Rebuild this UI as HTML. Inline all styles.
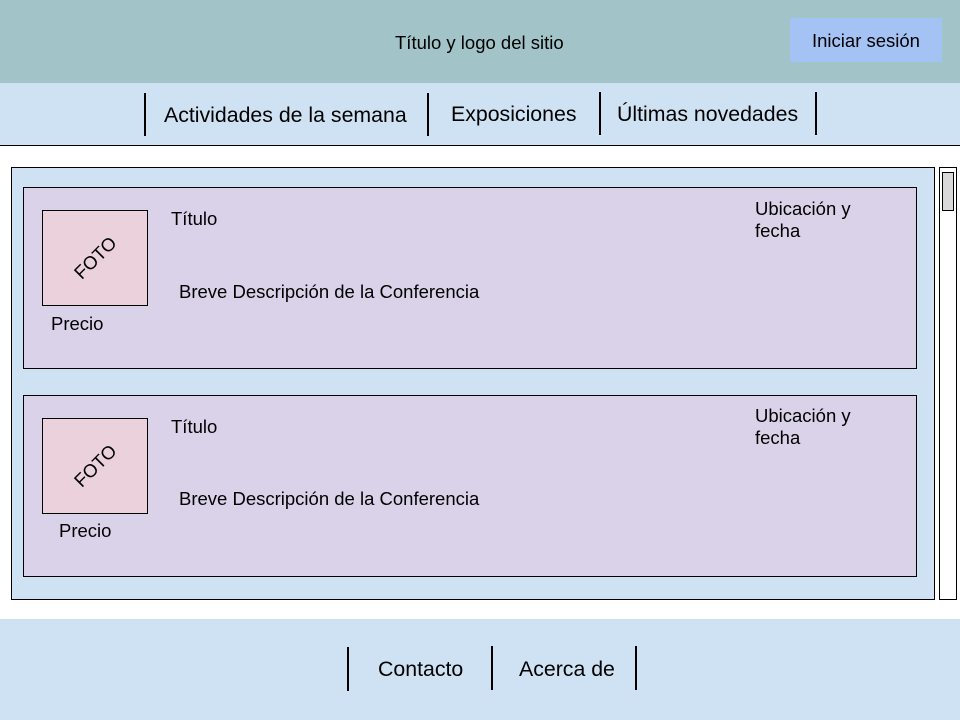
<!DOCTYPE html>
<html><head><meta charset="utf-8"><style>
body{margin:0;width:960px;height:720px;position:relative;background:#fff;font-family:"Liberation Sans",sans-serif;color:#000;overflow:hidden}
div{position:absolute;box-sizing:border-box}
.t{white-space:nowrap}
.v{width:2px;background:#000}
</style></head><body>
<div style="left:0;top:0;width:960px;height:83px;background:#a2c4c9"></div>
<div class="t" style="left:395px;top:32px;font-size:18.5px">Título y logo del sitio</div>
<div style="left:790px;top:18px;width:152px;height:44px;background:#a4c2f4"></div>
<div class="t" style="left:812px;top:30px;font-size:18.5px">Iniciar sesión</div>
<div style="left:0;top:83px;width:960px;height:63px;background:#cfe2f3;border-bottom:1px solid #000"></div>
<div class="v" style="left:144px;top:93px;height:43px"></div>
<div class="v" style="left:427px;top:93px;height:43px"></div>
<div class="v" style="left:599px;top:92px;height:43px"></div>
<div class="v" style="left:815px;top:92px;height:43px"></div>
<div class="t" style="left:164px;top:103px;font-size:21.3px">Actividades de la semana</div>
<div class="t" style="left:451px;top:102px;font-size:21.3px">Exposiciones</div>
<div class="t" style="left:617px;top:102px;font-size:21.3px">Últimas novedades</div>

<div style="left:11px;top:167px;width:924px;height:433px;background:#cfe2f3;border:1px solid #000"></div>
<div style="left:939px;top:167px;width:18px;height:433px;background:#fff;border:1px solid #000"></div>
<div style="left:942px;top:172px;width:12px;height:39px;background:#d9d9d9;border:1px solid #000"></div>

<div style="left:23px;top:187px;width:894px;height:182px;background:#d9d2e9;border:1px solid #000"></div>
<div style="left:42px;top:210px;width:106px;height:96px;background:#ead1dc;border:1px solid #000"></div>
<div class="t" style="left:70px;top:247px;font-size:18.5px;transform:rotate(-45deg)">FOTO</div>
<div class="t" style="left:171px;top:208px;font-size:18.5px">Título</div>
<div class="t" style="left:179px;top:281px;font-size:18.5px">Breve Descripción de la Conferencia</div>
<div class="t" style="left:51px;top:313px;font-size:18.5px">Precio</div>
<div style="left:755px;top:198px;font-size:18.5px;line-height:22px;white-space:nowrap">Ubicación y<br>fecha</div>

<div style="left:23px;top:395px;width:894px;height:182px;background:#d9d2e9;border:1px solid #000"></div>
<div style="left:42px;top:418px;width:106px;height:96px;background:#ead1dc;border:1px solid #000"></div>
<div class="t" style="left:70px;top:455px;font-size:18.5px;transform:rotate(-45deg)">FOTO</div>
<div class="t" style="left:171px;top:416px;font-size:18.5px">Título</div>
<div class="t" style="left:179px;top:488px;font-size:18.5px">Breve Descripción de la Conferencia</div>
<div class="t" style="left:59px;top:520px;font-size:18.5px">Precio</div>
<div style="left:755px;top:405px;font-size:18.5px;line-height:22px;white-space:nowrap">Ubicación y<br>fecha</div>

<div style="left:0;top:619px;width:960px;height:101px;background:#cfe2f3"></div>
<div class="v" style="left:347px;top:647px;height:44px"></div>
<div class="v" style="left:491px;top:646px;height:44px"></div>
<div class="v" style="left:635px;top:646px;height:44px"></div>
<div class="t" style="left:378px;top:657px;font-size:21.3px">Contacto</div>
<div class="t" style="left:519px;top:657px;font-size:21.3px">Acerca de</div>
</body></html>
